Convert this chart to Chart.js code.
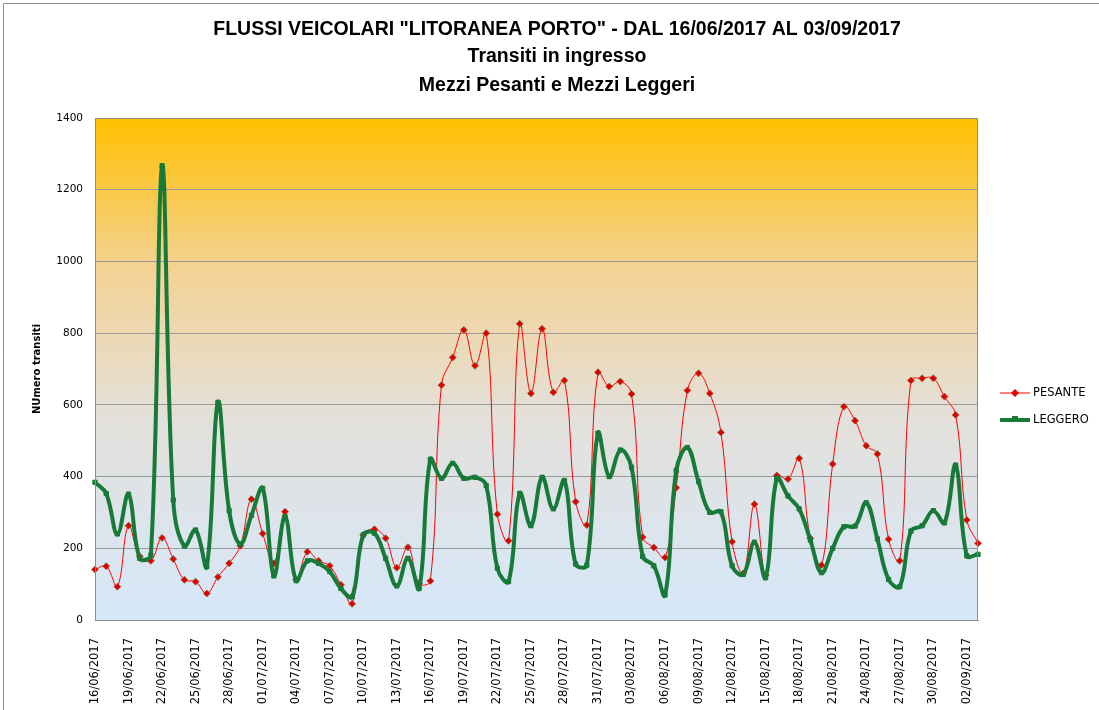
<!DOCTYPE html>
<html>
<head>
<meta charset="utf-8">
<script src="https://cdn.jsdelivr.net/npm/chart.js@4/dist/chart.umd.min.js"></script>
<style>
  html, body { margin: 0; padding: 0; background: #fff; }
  #wrap { width: 1099px; height: 710px; position: relative; }
</style>
</head>
<body>
<div id="wrap"><canvas id="flussiChart" width="1099" height="710"></canvas></div>
<script>
// Date (categorie asse X)
const giorni = [
  '16/06/2017','17/06/2017','18/06/2017','19/06/2017','20/06/2017','21/06/2017','22/06/2017','23/06/2017','24/06/2017','25/06/2017',
  '26/06/2017','27/06/2017','28/06/2017','29/06/2017','30/06/2017','01/07/2017','02/07/2017','03/07/2017','04/07/2017','05/07/2017',
  '06/07/2017','07/07/2017','08/07/2017','09/07/2017','10/07/2017','11/07/2017','12/07/2017','13/07/2017','14/07/2017','15/07/2017',
  '16/07/2017','17/07/2017','18/07/2017','19/07/2017','20/07/2017','21/07/2017','22/07/2017','23/07/2017','24/07/2017','25/07/2017',
  '26/07/2017','27/07/2017','28/07/2017','29/07/2017','30/07/2017','31/07/2017','01/08/2017','02/08/2017','03/08/2017','04/08/2017',
  '05/08/2017','06/08/2017','07/08/2017','08/08/2017','09/08/2017','10/08/2017','11/08/2017','12/08/2017','13/08/2017','14/08/2017',
  '15/08/2017','16/08/2017','17/08/2017','18/08/2017','19/08/2017','20/08/2017','21/08/2017','22/08/2017','23/08/2017','24/08/2017',
  '25/08/2017','26/08/2017','27/08/2017','28/08/2017','29/08/2017','30/08/2017','31/08/2017','01/09/2017','02/09/2017','03/09/2017'
];

// Mezzi pesanti
const pesante = [
  141, 150, 93, 263, 177, 165, 229, 170, 112, 107,
  74, 120, 158, 207, 337, 241, 158, 302, 112, 190,
  165, 151, 98, 45, 237, 253, 228, 146, 203, 102,
  109, 655, 732, 809, 709, 800, 295, 221, 826, 632,
  812, 635, 668, 330, 265, 691, 651, 665, 630, 231,
  202, 174, 369, 640, 688, 632, 523, 218, 130, 323,
  125, 403, 393, 451, 228, 153, 435, 595, 556, 486,
  463, 225, 165, 668, 674, 674, 623, 572, 279, 214
];

// Mezzi leggeri
const leggero = [
  384, 353, 240, 351, 172, 181, 1267, 335, 206, 251,
  149, 607, 305, 212, 292, 367, 123, 288, 110, 165,
  158, 135, 88, 65, 237, 242, 172, 95, 172, 88,
  448, 395, 437, 395, 398, 375, 144, 107, 353, 263,
  398, 310, 389, 156, 153, 521, 400, 474, 426, 177,
  151, 70, 417, 481, 386, 300, 302, 151, 127, 217,
  118, 395, 346, 310, 223, 132, 200, 260, 262, 327,
  226, 113, 93, 248, 263, 305, 271, 432, 179, 183
];

const titolo = [
  'FLUSSI VEICOLARI "LITORANEA PORTO" - DAL 16/06/2017 AL 03/09/2017',
  'Transiti in ingresso',
  'Mezzi Pesanti e Mezzi Leggeri'
];

const rosso = '#FF0000';
const verde = '#177A38';

// sfondo sfumato dell'area del grafico + cornice + titolo
const sfondoPlugin = {
  id: 'sfondo',
  beforeDraw(chart) {
    const { ctx, chartArea: a } = chart;
    const g = ctx.createLinearGradient(0, a.top, 0, a.bottom);
    g.addColorStop(0, '#FFC000');
    g.addColorStop(0.3, '#F4D294');
    g.addColorStop(0.6, '#E3E0DB');
    g.addColorStop(1, '#D6E8FA');
    ctx.save();
    ctx.fillStyle = g;
    ctx.fillRect(a.left, a.top, a.right - a.left, a.bottom - a.top);
    // cornice esterna
    ctx.strokeStyle = '#8c8c8c';
    ctx.lineWidth = 1;
    ctx.beginPath();
    ctx.moveTo(3.5, 710);
    ctx.lineTo(3.5, 3.5);
    ctx.lineTo(1099, 3.5);
    ctx.stroke();
    // titolo centrato sulla pagina
    ctx.fillStyle = '#000';
    ctx.textAlign = 'center';
    ctx.textBaseline = 'middle';
    ctx.font = 'bold 19.5px "Liberation Sans", sans-serif';
    ctx.fillText(titolo[0], 557, 30);
    ctx.fillText(titolo[1], 557, 57);
    ctx.fillText(titolo[2], 557, 86);
    ctx.restore();
  },
  afterDraw(chart) {
    const { ctx, chartArea: a } = chart;
    ctx.save();
    ctx.strokeStyle = '#8c8c8c';
    ctx.lineWidth = 1;
    ctx.strokeRect(a.left + 0.5, a.top + 0.5, a.right - a.left - 1, a.bottom - a.top);
    ctx.restore();
  }
};

// legenda personalizzata (linea + marcatore)
const legendaPlugin = {
  id: 'legenda',
  afterDraw(chart) {
    const ctx = chart.ctx;
    const x0 = 1000, x1 = 1030;
    ctx.save();
    ctx.font = '11.5px "DejaVu Sans", sans-serif';
    ctx.textBaseline = 'middle';
    ctx.fillStyle = '#000';
    // PESANTE
    let y = 393;
    ctx.strokeStyle = rosso;
    ctx.lineWidth = 1;
    ctx.beginPath(); ctx.moveTo(x0, y); ctx.lineTo(x1, y); ctx.stroke();
    ctx.fillStyle = '#E00000';
    ctx.beginPath();
    ctx.moveTo(1015, y - 4); ctx.lineTo(1019, y); ctx.lineTo(1015, y + 4); ctx.lineTo(1011, y);
    ctx.closePath(); ctx.fill();
    ctx.fillStyle = '#000';
    ctx.fillText('PESANTE', 1033, y);
    // LEGGERO
    y = 420;
    ctx.strokeStyle = verde;
    ctx.lineWidth = 4;
    ctx.beginPath(); ctx.moveTo(x0, y); ctx.lineTo(x1, y); ctx.stroke();
    ctx.fillStyle = verde;
    ctx.fillRect(1012, y - 4, 6, 6);
    ctx.fillStyle = '#000';
    ctx.fillText('LEGGERO', 1033, y);
    ctx.restore();
  }
};

document.addEventListener('DOMContentLoaded', () => {
  const canvas = document.getElementById('flussiChart');
  if (!canvas) return;

  new Chart(canvas, {
    type: 'line',
    data: {
      labels: giorni,
      datasets: [
        {
          label: 'PESANTE',
          data: pesante,
          borderColor: rosso,
          borderWidth: 1,
          backgroundColor: '#E00000',
          pointStyle: 'rectRot',
          pointRadius: 3.5,
          pointBorderColor: '#8B6A3E',
          pointBorderWidth: 0.8,
          tension: 0.4,
          order: 2
        },
        {
          label: 'LEGGERO',
          data: leggero,
          borderColor: verde,
          borderWidth: 4,
          backgroundColor: verde,
          pointStyle: 'rect',
          pointRadius: 3,
          pointBorderColor: verde,
          pointBorderWidth: 1,
          tension: 0.4,
          order: 1
        }
      ]
    },
    options: {
      responsive: false,
      animation: false,
      layout: { padding: { left: 10, right: 121, top: 118, bottom: 0 } },
      plugins: {
        legend: { display: false },
        tooltip: { enabled: false },
        title: { display: false }
      },
      scales: {
        x: {
          grid: { display: false },
          border: { display: true, color: '#8c8c8c' },
          ticks: {
            autoSkip: false,
            maxRotation: 90,
            minRotation: 90,
            color: '#000',
            padding: 10,
            font: { family: '"DejaVu Sans", sans-serif', size: 11.5 },
            callback: function (val, i) { return i % 3 === 0 ? giorni[i] : ''; }
          },
          afterFit: (scale) => { scale.height = 90; }
        },
        y: {
          min: 0,
          max: 1400,
          ticks: {
            stepSize: 200,
            color: '#000',
            padding: 12,
            font: { family: '"DejaVu Sans", sans-serif', size: 10.5 },
            callback: (v) => String(v)
          },
          grid: { color: '#9a9a9a', lineWidth: 1, drawTicks: false },
          border: { display: true, color: '#8c8c8c' },
          title: {
            display: true,
            text: 'NUmero transiti',
            color: '#000',
            font: { family: '"DejaVu Sans", sans-serif', size: 10, weight: 'bold' },
            padding: { top: 21, bottom: 0 }
          },
          afterFit: (scale) => { scale.width = 85; }
        }
      }
    },
    plugins: [sfondoPlugin, legendaPlugin]
  });
});
</script>
</body>
</html>
